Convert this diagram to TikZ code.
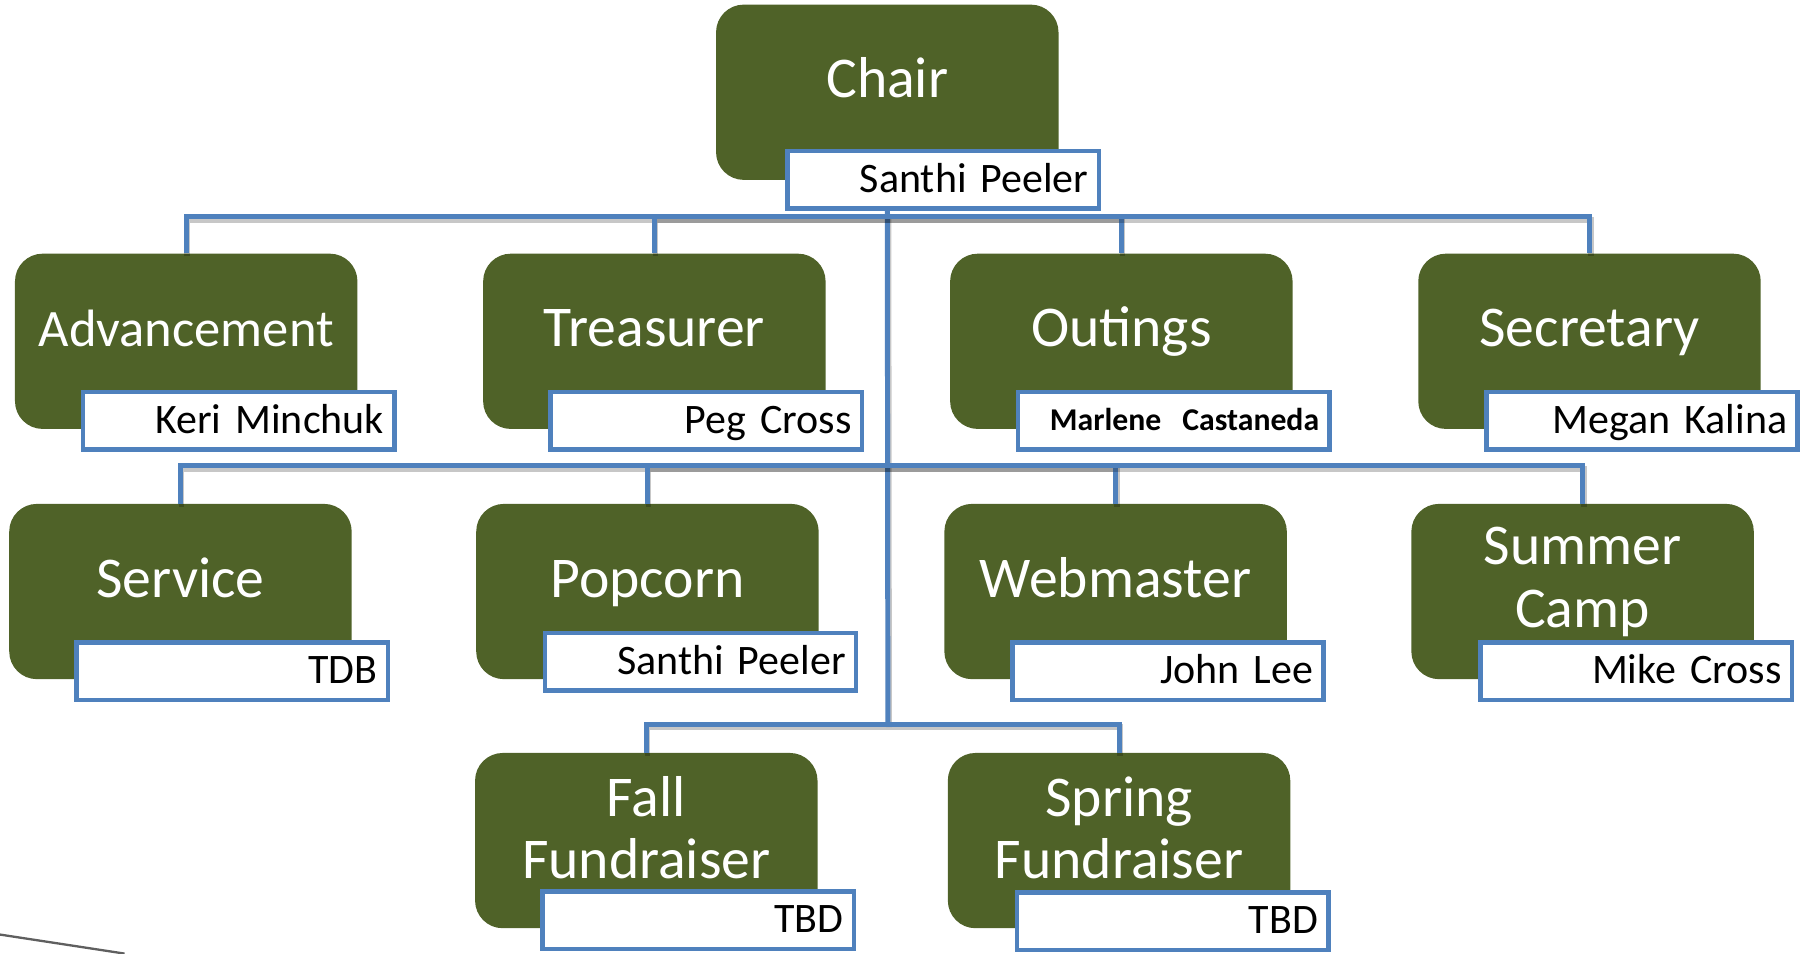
\documentclass[tikz,border=0pt]{standalone}
\usepackage{fontspec}
\setmainfont{Carlito}[WordSpace={0.9}]
\definecolor{orggreen}{HTML}{4F6228}
\definecolor{orgblue}{HTML}{4F81BD}
\definecolor{decogray}{RGB}{95,95,95}
\begin{document}
\begin{tikzpicture}[x=1pt,y=-1pt,
  role/.style={fill=orggreen, rounded corners=24pt, minimum width=297pt, minimum height=152pt, inner sep=0pt},
  title/.style={anchor=base, text=white, font=\fontsize{50}{54}\selectfont, inner sep=0pt},
  who/.style={draw=orgblue, line width=4pt, fill=white, minimum width=270pt, minimum height=50pt,
    text width=252pt, align=right, inner xsep=9pt, inner ysep=0pt, text height=22pt, text depth=0pt,
    font=\fontsize{36.4}{40}\selectfont},
  link/.style={draw=orgblue, line width=4.3pt,
    preaction={draw=black, opacity=.22, line width=5pt, transform canvas={xshift=1pt, yshift=-2.5pt}}},
  deco/.style={draw=decogray, line width=2pt},
]
\useasboundingbox (0,0) rectangle (1568,826.5);

% green role boxes
\node[role] (chair) at (769.5,80) {};
\node[role] (adv)   at (161.5,296) {};
\node[role] (tre)   at (567.5,296) {};
\node[role] (out)   at (972.5,296) {};
\node[role] (sec)   at (1378.5,296) {};
\node[role] (svc)   at (156.5,513) {};
\node[role] (pop)   at (561.5,513) {};
\node[role] (web)   at (967.5,513) {};
\node[role] (sum)   at (1372.5,513) {};
\node[role] (fall)  at (560.5,729) {};
\node[role] (spr)   at (970.5,729) {};

% titles
\node[title] (tchair) at ([yshift=-81pt]chair.north) {Chair};
\node[title, font=\fontsize{45.6}{54}\selectfont] (tadv) at ([yshift=-81pt]adv.north) {Advancement};
\node[title] (ttre) at ([yshift=-81pt]tre.north) {Treasurer};
\node[title] (tout) at ([yshift=-81pt]out.north) {Outings};
\node[title] (tsec) at ([yshift=-81pt]sec.north) {Secretary};
\node[title] (tsvc) at ([yshift=-81pt]svc.north) {Service};
\node[title] (tpop) at ([yshift=-81pt]pop.north) {Popcorn};
\node[title] (tweb) at ([yshift=-81pt]web.north) {Webmaster};
\node[title] (tsum) at ([yshift=-53pt]sum.north) {\begin{tabular}[t]{@{}c@{}}Summer\\Camp\end{tabular}};
\node[title] (tfall) at ([yshift=-55pt]fall.north) {\begin{tabular}[t]{@{}c@{}}Fall\\Fundraiser\end{tabular}};
\node[title] (tspr) at ([yshift=-55pt]spr.north) {\begin{tabular}[t]{@{}c@{}}Spring\\Fundraiser\end{tabular}};

% name boxes
\node[who] (nchair) at (818,156) {Santhi Peeler};
\node[who] (nadv) at (207,365) {Keri Minchuk};
\node[who] (ntre) at (612.5,365) {Peg Cross};
\node[who, font=\fontsize{27.5}{30}\selectfont\bfseries, text height=16pt] (nout) at (1018,365) {Marlene\ \ Castaneda};
\node[who] (nsec) at (1424,365) {Megan Kalina};
\node[who] (nsvc) at (201.5,582) {TDB};
\node[who] (npop) at (607.5,574) {Santhi Peeler};
\node[who] (nweb) at (1013,582) {John Lee};
\node[who] (nsum) at (1419,582) {Mike Cross};
\node[who] (nfall) at (605.5,798) {TBD};
\node[who] (nspr) at (1017,799) {TBD};

% buses
\coordinate (b1) at (770,188);
\coordinate (b2) at (770,404);
\coordinate (b3) at (770,628);

% connectors
\draw[link] (chair |- nchair.south) -- (b3);
\draw[link] (adv.north) |- (b1);
\draw[link] (tre.north) |- (b1);
\draw[link] (out.north) |- (b1);
\draw[link] (sec.north) |- (b1);
\draw[link] (svc.north) |- (b2);
\draw[link] (pop.north) |- (b2);
\draw[link] (web.north) |- (b2);
\draw[link] (sum.north) |- (b2);
\draw[link] (fall.north) |- (b3);
\draw[link] (spr.north) |- (b3);

% slide decoration
\coordinate (d1) at (0,810.5);
\coordinate (d2) at (108,827);
\draw[deco] (d1) -- (d2);
\end{tikzpicture}
\end{document}
